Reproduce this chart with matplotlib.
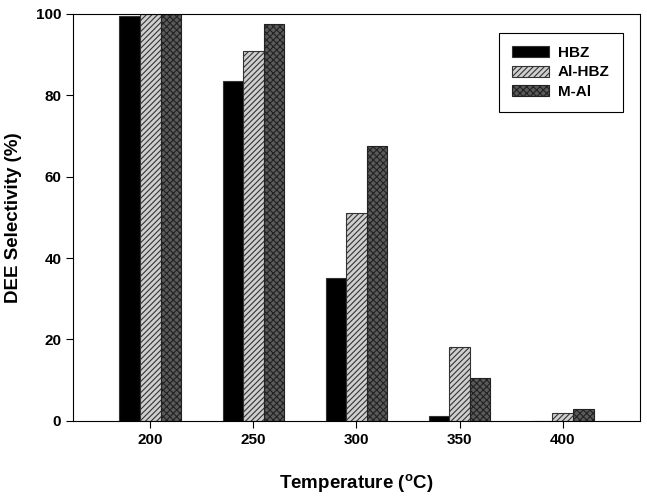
import numpy as np
import matplotlib
matplotlib.use("Agg")
import matplotlib.pyplot as plt

plt.rcParams['font.family'] = ['Liberation Sans', 'DejaVu Sans']
plt.rcParams['font.weight'] = 'bold'
plt.rcParams['hatch.linewidth'] = 0.8

# Data
temps = ['200', '250', '300', '350', '400']
hbz = [99.5, 83.5, 35.0, 1.2, 0.0]
al_hbz = [100.0, 90.8, 51.0, 18.2, 2.0]
m_al = [100.0, 97.5, 67.5, 10.6, 3.0]

fig = plt.figure(figsize=(6.47, 4.98), dpi=100)
ax = fig.add_axes([0.113, 0.155, 0.876, 0.817])

x = np.arange(len(temps))
w = 0.2
ax.bar(x - w, hbz, w, color='black', edgecolor='#333333', linewidth=0.8, label='HBZ')
ax.bar(x, al_hbz, w, color='#cfcfcf', edgecolor='#333333', hatch='//////', linewidth=0.8, label='Al-HBZ')
ax.bar(x + w, m_al, w, color='#5a5a5a', edgecolor='#222222', hatch='xxxxx', linewidth=0.8, label='M-Al')

ax.set_xlim(-0.75, 4.75)
ax.set_ylim(0, 100)
ax.set_xticks(x)
ax.set_xticklabels(temps)
ax.set_yticks([0, 20, 40, 60, 80, 100])
ax.tick_params(direction='out', length=5, width=0.8, labelsize=11)
for s in ax.spines.values():
    s.set_linewidth(0.8)

ax.set_xlabel('Temperature ($\\mathregular{^oC}$)', fontsize=13.5, fontweight='bold', labelpad=18)
ax.set_ylabel('DEE Selectivity (%)', fontsize=13.5, fontweight='bold', labelpad=10)

leg = ax.legend(loc='upper right', bbox_to_anchor=(0.970, 0.953), borderaxespad=0,
                fontsize=11, fancybox=False, edgecolor='black', framealpha=1,
                handlelength=2.4, handleheight=0.72, handletextpad=0.6,
                borderpad=0.85, labelspacing=0.35)
leg.get_frame().set_linewidth(0.8)

fig.savefig('out.png', dpi=100)
